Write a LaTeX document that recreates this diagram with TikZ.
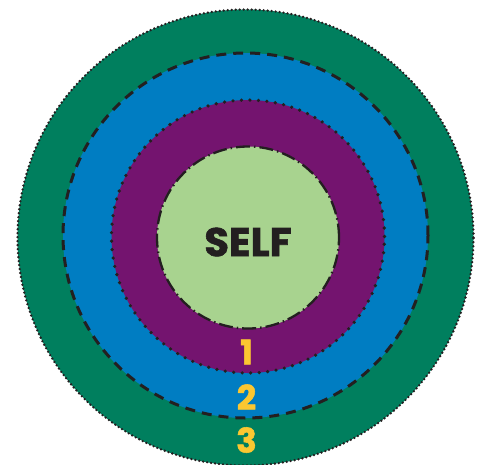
\documentclass[tikz,border=0pt]{standalone}
\usepackage{fontspec}
\setmainfont{Poppins}[BoldFeatures={FakeBold=1.5}]

\definecolor{anelexterno}{HTML}{007F5E}
\definecolor{anelmedio}{HTML}{007DC2}
\definecolor{anelinterno}{HTML}{74146F}
\definecolor{nucleo}{HTML}{A8D38F}
\definecolor{amarelo}{HTML}{FBC731}
\definecolor{traco}{HTML}{231F20}

\tikzset{
	anel/.style={circle, inner sep=0pt, outer sep=0pt, draw=traco},
	pontos finos/.style={line width=2.6pt, dash pattern=on 0pt off 4pt, line cap=round},
	tracos/.style={line width=3pt, dash pattern=on 10pt off 7pt},
	pontos/.style={line width=3.6pt, dash pattern=on 0pt off 8.5pt, line cap=round},
	traco ponto/.style={line width=2.3pt, dash pattern=on 14pt off 4pt on 1.5pt off 4pt},
	rotulo/.style={font=\bfseries\fontsize{34}{34}\selectfont, text=amarelo, inner sep=0pt}
}

\begin{document}
\begin{tikzpicture}[x=1pt, y=-1pt]
	\useasboundingbox (0,0) rectangle (481,464);

% aneis
	\node[anel, pontos finos, fill=anelexterno, minimum size=456pt] (anel3) at (245.5,237.5) {};
	\node[anel, tracos, fill=anelmedio, minimum size=365pt] (anel2) at (245.5,235.5) {};
	\node[anel, pontos, fill=anelinterno, minimum size=273pt] (anel1) at (248,236.5) {};
	\node[anel, traco ponto, fill=nucleo, minimum size=182pt] (eu) at (248,237.5) {};

% textos
	\node[font=\bfseries\fontsize{40}{40}\selectfont, text=traco, inner sep=0pt] (self) at (248,242) {SELF};
	\foreach \n/\y in {1/352, 2/397, 3/440}
		\node[rotulo] (num\n) at (246.5,\y) {\n};

\end{tikzpicture}
\end{document}
